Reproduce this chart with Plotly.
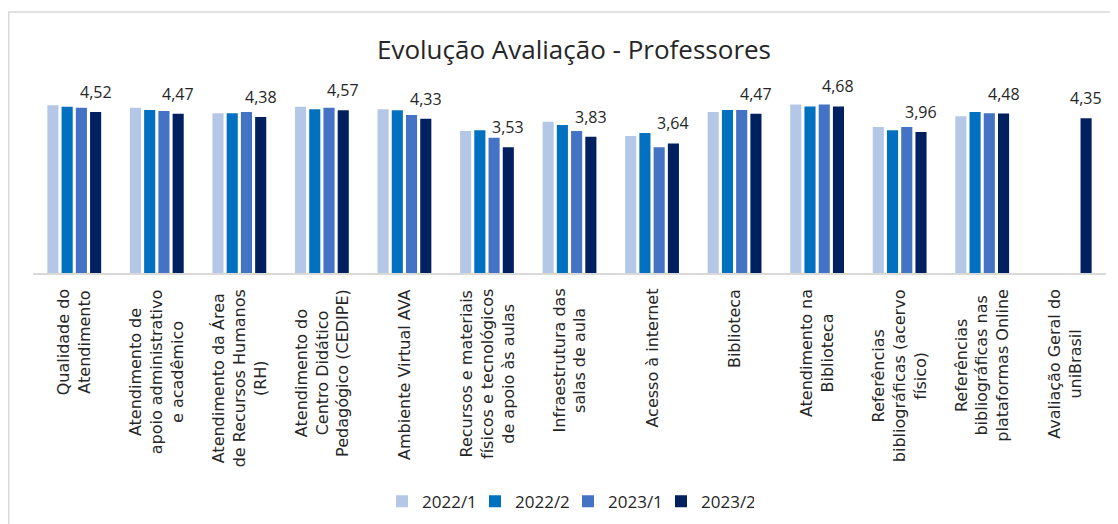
import plotly.graph_objects as go

# categories (line breaks as in the original chart)
categories = [
    "Qualidade do<br>Atendimento",
    "Atendimento de<br>apoio administrativo<br>e acadêmico",
    "Atendimento da Área<br>de Recursos Humanos<br>(RH)",
    "Atendimento do<br>Centro Didático<br>Pedagógico (CEDIPE)",
    "Ambiente Virtual AVA",
    "Recursos e materiais<br>físicos e tecnológicos<br>de apoio às aulas",
    "Infraestrutura das<br>salas de aula",
    "Acesso à internet",
    "Biblioteca",
    "Atendimento na<br>Biblioteca",
    "Referências<br>bibliográficas (acervo<br>físico)",
    "Referências<br>bibliográficas nas<br>plataformas Online",
    "Avaliação Geral do<br>uniBrasil",
]

series_names = ["2022/1", "2022/2", "2023/1", "2023/2"]

v_2022_1 = [4.71, 4.64, 4.49, 4.67, 4.60, 3.99, 4.25, 3.85, 4.52, 4.73, 4.10, 4.40, None]
v_2022_2 = [4.67, 4.58, 4.49, 4.60, 4.57, 4.01, 4.16, 3.93, 4.58, 4.68, 4.01, 4.52, None]
v_2023_1 = [4.64, 4.55, 4.52, 4.64, 4.44, 3.80, 3.99, 3.53, 4.58, 4.73, 4.10, 4.49, None]
v_2023_2 = [4.52, 4.47, 4.38, 4.57, 4.33, 3.53, 3.83, 3.64, 4.47, 4.68, 3.96, 4.48, 4.35]

colors = ["#B4C7E7", "#0070C0", "#4472C4", "#002060"]

# the page body has an 8px margin, so the figure is drawn 8px smaller and shifted
OFF = 8
W, H = 1118 - OFF, 524 - OFF
ML, MR, MT, MB = 33 - OFF, 12, 95 - OFF, 251
BARGAP = 0.31
plot_w = W - ML - MR
plot_h = H - MT - MB
cat_w = plot_w / len(categories)

fig = go.Figure()
for name, vals, col in zip(series_names, [v_2022_1, v_2022_2, v_2023_1, v_2023_2], colors):
    fig.add_trace(go.Bar(
        name=name, x=categories, y=vals,
        marker=dict(color=col, line=dict(width=0)),
        hoverinfo="x+y+name",
    ))

ann = []
# data labels on the last series (2023/2), centred over its bar
shift_last = cat_w * (1 - BARGAP) * (3.5 / 4 - 0.5)
for c, v in zip(categories, v_2023_2):
    ann.append(dict(
        x=c, y=v, xref="x", yref="y", text=f"{v:.2f}".replace(".", ","),
        showarrow=False, xshift=shift_last, yshift=20, yanchor="middle",
        font=dict(family="Open Sans", size=16, color="#262626"),
    ))
# category labels, rotated, lines centred
for c in categories:
    ann.append(dict(
        x=c, y=0, xref="x", yref="y", text=c, textangle=-90,
        showarrow=False, xanchor="center", yanchor="top", yshift=-14,
        align="center",
        font=dict(family="DejaVu Sans", size=16, color="#262626"),
    ))

fig.update_layout(
    width=W, height=H,
    margin=dict(l=ML, r=MR, t=MT, b=MB),
    paper_bgcolor="white", plot_bgcolor="white",
    barmode="group", bargap=BARGAP, bargroupgap=0.22,
    title=dict(
        text="Evolução Avaliação - Professores",
        x=(574 - OFF) / W, xanchor="center", xref="container",
        y=1 - (49.5 - OFF) / H, yanchor="middle", yref="container",
        font=dict(family="Open Sans", size=26, color="#262626"),
    ),
    xaxis=dict(
        showticklabels=False, showgrid=False, zeroline=False,
        showline=True, linecolor="#D9D9D9", linewidth=1.5, ticks="",
    ),
    yaxis=dict(range=[0, 5], visible=False, showgrid=False, zeroline=False),
    legend=dict(
        orientation="h", x=(382 - OFF) / W, xanchor="left",
        y=1 - (501.7 - OFF) / H, yanchor="middle",
        xref="container", yref="container",
        font=dict(family="Open Sans", size=17, color="#262626"),
        entrywidth=48, traceorder="normal",
    ),
    annotations=ann,
    shapes=[dict(
        type="rect", xref="paper", yref="paper",
        x0=(0.75 - ML) / plot_w, x1=(W + 20 - ML) / plot_w,
        y0=-(MB + 20) / plot_h, y1=(MT + plot_h - 4) / plot_h,
        line=dict(color="#D9D9D9", width=1.5), layer="below",
    )],
)

fig.write_html("out.html")
